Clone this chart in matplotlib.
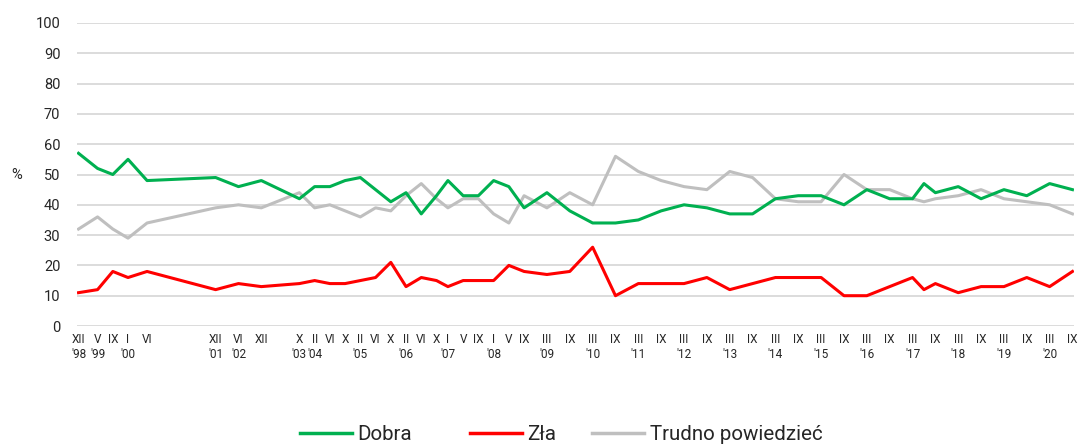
import matplotlib.pyplot as plt

plt.rcParams['font.family'] = ['Roboto', 'DejaVu Sans']

# survey dates (year, month)
dates = [(1998, 12), (1999, 5), (1999, 9), (2000, 1), (2000, 6), (2001, 12), (2002, 6), (2002, 12),
         (2003, 10), (2004, 2), (2004, 6), (2004, 10), (2005, 2), (2005, 6), (2005, 10),
         (2006, 2), (2006, 6), (2006, 10), (2007, 1), (2007, 5), (2007, 9), (2008, 1), (2008, 5), (2008, 9),
         (2009, 3), (2009, 9), (2010, 3), (2010, 9), (2011, 3), (2011, 9), (2012, 3), (2012, 9),
         (2013, 3), (2013, 9), (2014, 3), (2014, 9), (2015, 3), (2015, 9), (2016, 3), (2016, 9),
         (2017, 3), (2017, 6), (2017, 9), (2018, 3), (2018, 9), (2019, 3), (2019, 9), (2020, 3), (2020, 9)]

dobra = [57, 52, 50, 55, 48, 49, 46, 48,
         42, 46, 46, 48, 49, 45, 41, 44, 37, 43,
         48, 43, 43, 48, 46, 39,
         44, 38, 34, 34, 35, 38, 40, 39, 37, 37, 42, 43, 43, 40, 45, 42,
         42, 47, 44, 46, 42, 45, 43, 47, 45]
zla = [11, 12, 18, 16, 18, 12, 14, 13,
       14, 15, 14, 14, 15, 16, 21, 13, 16, 15,
       13, 15, 15, 15, 20, 18,
       17, 18, 26, 10, 14, 14, 14, 16, 12, 14, 16, 16, 16, 10, 10, 13,
       16, 12, 14, 11, 13, 13, 16, 13, 18]
trudno = [32, 36, 32, 29, 34, 39, 40, 39,
          44, 39, 40, 38, 36, 39, 38, 43, 47, 42,
          39, 42, 42, 37, 34, 43,
          39, 44, 40, 56, 51, 48, 46, 45, 51, 49, 42, 41, 41, 50, 45, 45,
          42, 41, 42, 43, 45, 42, 41, 40, 37]

# labelled dates on the x axis (VI 2017 has no label)
tick_dates = [d for d in dates if d != (2017, 6)]

roman = {1: 'I', 2: 'II', 3: 'III', 4: 'IV', 5: 'V', 6: 'VI', 7: 'VII',
         8: 'VIII', 9: 'IX', 10: 'X', 11: 'XI', 12: 'XII'}


def month_index(d):
    return (d[0] - 1998) * 12 + d[1] - 12


x = [month_index(d) for d in dates]

fig = plt.figure(figsize=(10.8, 4.45), dpi=100)
ax = fig.add_axes([77 / 1080, 1 - 326 / 445, 997 / 1080, 303 / 445])

ax.plot(x, dobra, color='#00b050', lw=2.2, solid_joinstyle='round', zorder=3)
ax.plot(x, zla, color='#ff0000', lw=2.2, solid_joinstyle='round', zorder=3)
ax.plot(x, trudno, color='#bfbfbf', lw=2.2, solid_joinstyle='round', zorder=2)

ax.set_ylim(0, 100)
ax.set_xlim(-0.4, month_index(dates[-1]) + 0.4)
ax.set_yticks(range(0, 101, 10))
ax.yaxis.grid(True, color='#d9d9d9', lw=1.3)
ax.set_axisbelow(True)
for s in ax.spines.values():
    s.set_visible(False)

labels = []
seen = set()
for d in tick_dates:
    lab = roman[d[1]]
    if d[0] not in seen:
        seen.add(d[0])
        lab += "\n'" + str(d[0])[2:]
    labels.append(lab)
ax.set_xticks([month_index(d) for d in tick_dates])
ax.set_xticklabels(labels, fontsize=8.5, linespacing=1.25)
ax.tick_params(axis='x', length=0, pad=5, colors='#262626')
ax.tick_params(axis='y', length=0, pad=12, labelsize=10.5, colors='#262626')

fig.text(17 / 1080, 1 - 175 / 445, '%', fontsize=10.5, color='#262626', ha='center', va='center')

# legend entries spaced like the original
names = ['Dobra', 'Zła', 'Trudno powiedzieć']
colors = ['#00b050', '#ff0000', '#bfbfbf']
lefts = [300, 470, 592]
for name, c, lx in zip(names, colors, lefts):
    h, = ax.plot([], [], color=c, lw=2.5)
    fig.legend([h], [name], loc='center left', bbox_to_anchor=(lx / 1080, 1 - 435 / 445),
               frameon=False, fontsize=14.8, handlelength=2.55, handletextpad=0.25,
               borderpad=0, borderaxespad=0, labelcolor='#262626')

fig.savefig('out.png', dpi=100)
